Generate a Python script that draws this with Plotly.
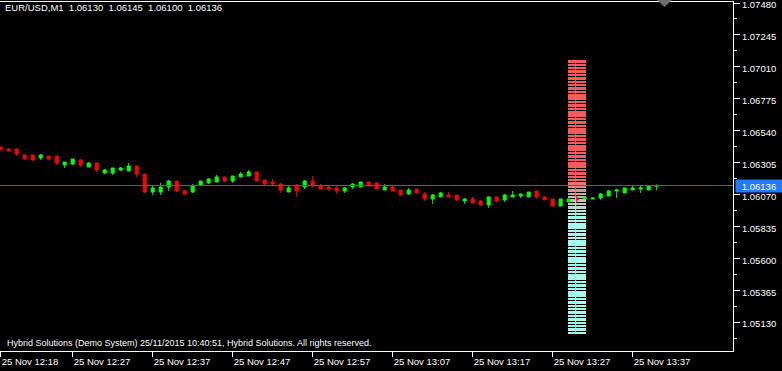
import numpy as np
import pandas as pd
import plotly.graph_objects as go

# ---------------- data ----------------
title_text = "EUR/USD,M1\u00a0\u00a01.06130\u00a0\u00a01.06145\u00a0\u00a01.06100\u00a0\u00a01.06136"
footer_text = "Hybrid Solutions (Demo System) 25/11/2015 10:40:51, Hybrid Solutions. All rights reserved."
start_time = "2015-11-25 12:18"

opens = [1.06420, 1.06405, 1.06405, 1.06361, 1.06361, 1.06339, 1.06353, 1.06353, 1.06287, 1.06294,
         1.06324, 1.06272, 1.06302, 1.06228, 1.06228, 1.06250, 1.06243, 1.06280, 1.06221, 1.06088,
         1.06088, 1.06125, 1.06169, 1.06096, 1.06088, 1.06140, 1.06155, 1.06162, 1.06199, 1.06169,
         1.06199, 1.06206, 1.06236, 1.06177, 1.06162, 1.06147, 1.06088, 1.06140, 1.06125, 1.06169,
         1.06133, 1.06125, 1.06118, 1.06096, 1.06125, 1.06125, 1.06162, 1.06155, 1.06103, 1.06125,
         1.06103, 1.06074, 1.06110, 1.06074, 1.06037, 1.06052, 1.06066, 1.06066, 1.06022, 1.06037,
         1.06022, 1.05993, 1.06052, 1.06030, 1.06052, 1.06059, 1.06052, 1.06096, 1.06052, 1.06037,
         1.05985, 1.06015, 1.06044, 1.06037, 1.06037, 1.06044, 1.06059, 1.06096, 1.06081, 1.06103,
         1.06110, 1.06103, 1.06130]
highs = [1.06420, 1.06412, 1.06405, 1.06361, 1.06361, 1.06368, 1.06353, 1.06353, 1.06309, 1.06331,
         1.06331, 1.06309, 1.06302, 1.06258, 1.06265, 1.06272, 1.06302, 1.06280, 1.06221, 1.06133,
         1.06155, 1.06177, 1.06169, 1.06103, 1.06147, 1.06169, 1.06191, 1.06214, 1.06199, 1.06206,
         1.06236, 1.06250, 1.06236, 1.06177, 1.06184, 1.06155, 1.06133, 1.06147, 1.06177, 1.06206,
         1.06147, 1.06140, 1.06133, 1.06125, 1.06155, 1.06162, 1.06162, 1.06162, 1.06147, 1.06133,
         1.06103, 1.06118, 1.06110, 1.06088, 1.06074, 1.06088, 1.06088, 1.06066, 1.06044, 1.06052,
         1.06030, 1.06052, 1.06052, 1.06074, 1.06096, 1.06074, 1.06088, 1.06096, 1.06059, 1.06037,
         1.06037, 1.06037, 1.06059, 1.06052, 1.06044, 1.06081, 1.06103, 1.06110, 1.06118, 1.06133,
         1.06133, 1.06133, 1.06145]
lows = [1.06398, 1.06390, 1.06353, 1.06331, 1.06317, 1.06324, 1.06324, 1.06287, 1.06265, 1.06287,
        1.06272, 1.06272, 1.06236, 1.06221, 1.06214, 1.06243, 1.06243, 1.06199, 1.06081, 1.06066,
        1.06066, 1.06096, 1.06088, 1.06074, 1.06081, 1.06140, 1.06147, 1.06162, 1.06162, 1.06155,
        1.06199, 1.06206, 1.06169, 1.06140, 1.06133, 1.06081, 1.06088, 1.06052, 1.06110, 1.06125,
        1.06110, 1.06096, 1.06074, 1.06081, 1.06110, 1.06125, 1.06125, 1.06110, 1.06103, 1.06096,
        1.06066, 1.06066, 1.06081, 1.06022, 1.06000, 1.06052, 1.06052, 1.06022, 1.06000, 1.06007,
        1.05985, 1.05971, 1.06015, 1.06015, 1.06052, 1.06044, 1.06052, 1.06037, 1.06030, 1.05985,
        1.05985, 1.06015, 1.06015, 1.06037, 1.06037, 1.06030, 1.06059, 1.06044, 1.06081, 1.06103,
        1.06081, 1.06103, 1.06100]
closes = [1.06398, 1.06390, 1.06368, 1.06331, 1.06324, 1.06361, 1.06331, 1.06302, 1.06309, 1.06331,
          1.06287, 1.06302, 1.06250, 1.06250, 1.06265, 1.06265, 1.06280, 1.06221, 1.06088, 1.06118,
          1.06125, 1.06169, 1.06096, 1.06074, 1.06133, 1.06169, 1.06184, 1.06199, 1.06169, 1.06206,
          1.06221, 1.06236, 1.06169, 1.06147, 1.06147, 1.06103, 1.06118, 1.06096, 1.06169, 1.06133,
          1.06110, 1.06110, 1.06096, 1.06118, 1.06147, 1.06162, 1.06140, 1.06110, 1.06125, 1.06096,
          1.06066, 1.06103, 1.06081, 1.06037, 1.06066, 1.06081, 1.06052, 1.06030, 1.06037, 1.06007,
          1.05993, 1.06052, 1.06022, 1.06066, 1.06066, 1.06074, 1.06088, 1.06052, 1.06030, 1.05985,
          1.06037, 1.06037, 1.06030, 1.06052, 1.06044, 1.06074, 1.06096, 1.06103, 1.06118, 1.06118,
          1.06118, 1.06133, 1.06136]
bid_price = 1.06136

tick_times = ["2015-11-25 12:18", "2015-11-25 12:27", "2015-11-25 12:37", "2015-11-25 12:47",
              "2015-11-25 12:57", "2015-11-25 13:07", "2015-11-25 13:17", "2015-11-25 13:27",
              "2015-11-25 13:37"]

# depth-of-market ladder
dom_top = 1.07050
dom_bottom = 1.05050
dom_step = 0.00025
dom_levels = np.round(np.arange(dom_bottom, dom_top + dom_step / 2, dom_step), 5)
dom_volume = [1.0] * len(dom_levels)
dom_split = 1.06050
dom_start = "2015-11-25 13:28:52.5"
dom_minutes = 2.25
dom_line_time = "2015-11-25 13:29:52.5"

# ---------------- figure ----------------
t0 = pd.Timestamp(start_time)
times = t0 + pd.to_timedelta(np.arange(len(opens)), unit="min")

fig = go.Figure()

fig.add_trace(go.Candlestick(
    x=times, open=opens, high=highs, low=lows, close=closes,
    increasing=dict(line=dict(color="#00ff00", width=1), fillcolor="#00ff00"),
    decreasing=dict(line=dict(color="#ff0000", width=1), fillcolor="#ff0000"),
    whiskerwidth=0, hoverinfo="skip", showlegend=False,
))

red = np.array([244, 92, 92])
mid = np.array([205, 180, 170])
cyan = np.array([165, 250, 235])
cols = []
for lv in dom_levels:
    f = float(np.clip((1.0620 - lv) / (1.0620 - 1.0590), 0, 1))
    if f < 0.5:
        c = red * (1 - 2 * f) + mid * (2 * f)
    else:
        c = mid * (2 - 2 * f) + cyan * (2 * f - 1)
    cols.append("rgb(%d,%d,%d)" % tuple(c.round()))

dom_ms = dom_minutes * 60000
fig.add_trace(go.Bar(
    orientation="h", y=dom_levels, x=[v * dom_ms for v in dom_volume],
    base=[dom_start] * len(dom_levels), width=dom_step * 0.74,
    marker=dict(color=cols, line=dict(width=0)), hoverinfo="skip", showlegend=False,
))

fig.add_trace(go.Scatter(x=[dom_line_time, dom_line_time], y=[dom_top, dom_split], mode="lines",
                         line=dict(color="rgb(248,100,100)", width=1), hoverinfo="skip", showlegend=False))
fig.add_trace(go.Scatter(x=[dom_line_time, dom_line_time], y=[dom_split, dom_bottom], mode="lines",
                         line=dict(color="rgb(165,240,230)", width=1), hoverinfo="skip", showlegend=False))

# bid line
fig.add_shape(type="line", xref="paper", x0=0, x1=1, yref="y", y0=bid_price, y1=bid_price,
              line=dict(color="#3060c8", width=1), layer="above")
# chart shift marker
fig.add_shape(type="path", xref="paper", yref="paper",
              path="M 0.8963 1.0057 L 0.9168 1.0057 L 0.9066 0.9857 Z",
              fillcolor="#6e6e6e", line=dict(width=0))

font = "Liberation Sans"
x_lo = t0 - pd.Timedelta(seconds=5.25)
x_hi = t0 + pd.Timedelta(minutes=91.54)

fig.update_layout(
    width=782, height=371,
    margin=dict(l=0, r=49, t=2, b=20),
    paper_bgcolor="black", plot_bgcolor="black",
    showlegend=False, bargap=0, boxgap=0.45,
    font=dict(family=font, size=9.5, color="white"),
    xaxis=dict(
        type="date", range=[x_lo, x_hi], rangeslider=dict(visible=False),
        tickvals=tick_times, tickformat="%d %b %H:%M",
        ticks="outside", ticklen=5, tickcolor="white", ticklabelposition="outside right",
        ticklabelstandoff=2,
        tickfont=dict(family=font, size=9.5, color="white"),
        showgrid=False, zeroline=False, showline=True, linecolor="white", linewidth=1, mirror=True,
    ),
    yaxis=dict(
        side="right", range=[1.049173, 1.074874],
        tick0=1.05130, dtick=0.00235, tickformat=".5f", ticklabeloverflow="allow",
        ticklabelshift=2,
        ticks="outside", ticklen=6, tickcolor="white",
        tickfont=dict(family=font, size=9.5, color="white"),
        minor=dict(ticks="outside", ticklen=3, tickcolor="white", dtick=0.001175, tick0=1.05130),
        showgrid=False, zeroline=False, showline=True, linecolor="white", linewidth=1, mirror=True,
    ),
    annotations=[
        dict(text=title_text, xref="paper", yref="paper", x=0, y=1, xanchor="left", yanchor="middle",
             xshift=3, yshift=-5.5, showarrow=False, font=dict(family=font, size=9.5, color="white")),
        dict(text=footer_text, xref="paper", yref="paper", x=0, y=8 / 349, xanchor="left", yanchor="middle",
             xshift=5, showarrow=False, font=dict(family=font, size=9.0, color="white")),
        dict(text="%.5f" % bid_price, xref="paper", yref="y", x=1, y=bid_price, xanchor="left",
             yanchor="middle", xshift=2, showarrow=False, bgcolor="#1f7bff", width=46, height=12,
             borderpad=0, font=dict(family=font, size=9.5, color="white")),
    ],
)

fig.write_html("out.html", config={"displayModeBar": False})
